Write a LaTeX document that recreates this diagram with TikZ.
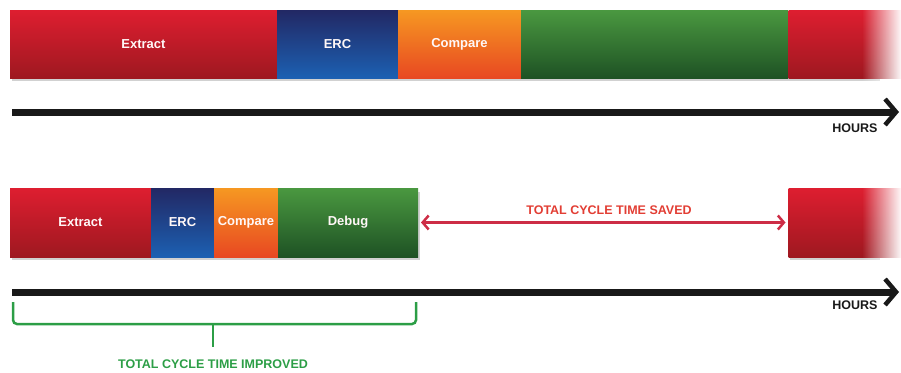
\documentclass[tikz,border=0pt]{standalone}
\usepackage{fontspec}
\setmainfont{Liberation Sans}
\usetikzlibrary{arrows.meta,fadings}
\definecolor{redT}{RGB}{222,30,48}
\definecolor{redB}{RGB}{158,24,32}
\definecolor{bluT}{RGB}{34,40,100}
\definecolor{bluB}{RGB}{28,96,178}
\definecolor{oraT}{RGB}{246,152,34}
\definecolor{oraB}{RGB}{232,72,34}
\definecolor{grnT}{RGB}{74,152,64}
\definecolor{grnB}{RGB}{30,82,36}
\definecolor{savedred}{RGB}{205,45,70}
\definecolor{savedtxt}{RGB}{226,62,52}
\definecolor{bracegreen}{RGB}{44,158,70}
\tikzset{
  seg/.style={inner sep=0pt, outer sep=0pt, anchor=west, minimum height=#1,
    font=\bfseries\fontsize{13}{13}\selectfont, text=white!88!pink},
  redseg/.style={seg=#1, top color=redT, bottom color=redB},
  bluseg/.style={seg=#1, top color=bluT, bottom color=bluB},
  oraseg/.style={seg=#1, top color=oraT, bottom color=oraB},
  grnseg/.style={seg=#1, top color=grnT, bottom color=grnB},
  axis/.style={line width=7pt, black!90, -{Straight Barb[length=11pt,width=26pt,line width=4.5pt]}},
  hours/.style={font=\bfseries\fontsize{12.5}{12.5}\selectfont, text=black!90, inner sep=0pt},
  caption/.style={font=\bfseries\fontsize{12.5}{12.5}\selectfont, inner sep=0pt},
  shadowbox/.style={fill=black!18},
}
\begin{document}
\begin{tikzpicture}[x=1pt,y=-1pt]
\useasboundingbox (0,0) rectangle (901,372);
% ---------- top bar ----------
\fill[shadowbox] (12,14) rectangle (880,81);
\node[redseg=68pt, minimum width=267pt] (ext1) at (10,44) {Extract};
\node[bluseg=68pt, minimum width=121pt] (erc1) at (ext1.east) {ERC};
\node[oraseg=68pt, minimum width=123pt] (cmp1) at (erc1.east) {Compare};
\node[grnseg=68pt, minimum width=267pt] (grn1) at (cmp1.east) {};
\node[redseg=68pt, minimum width=114pt] (tail1) at (788.5,44) {};
\fill[white, path fading=west] (862,8) rectangle (902,83);
% axis 1
\coordinate (a1s) at (12,112);
\coordinate (a1e) at (899,112);
\draw[axis] (a1s) -- (a1e);
\node[hours] (h1) at (855,128) {HOURS};
% ---------- bottom bar ----------
\fill[shadowbox] (12,192) rectangle (420,260);
\fill[shadowbox] (790,192) rectangle (880,260);
\node[redseg=69pt, minimum width=141pt] (ext2) at (10,222.5) {Extract};
\node[bluseg=69pt, minimum width=63pt] (erc2) at (ext2.east) {ERC};
\node[oraseg=69pt, minimum width=64pt] (cmp2) at (erc2.east) {Compare};
\node[grnseg=69pt, minimum width=140pt] (dbg2) at (cmp2.east) {Debug};
\node[redseg=69pt, minimum width=114pt] (tail2) at (788.5,222.5) {};
\fill[white, path fading=west] (862,186) rectangle (902,262);
% saved arrow
\draw[savedred, line width=2.5pt, {Straight Barb[length=6pt,width=14pt]}-{Straight Barb[length=6pt,width=14pt]}]
  ([xshift=3pt]dbg2.east) -- ([xshift=-3pt]tail2.west);
\node[caption, text=savedtxt] (saved) at (609,210) {TOTAL CYCLE TIME SAVED};
% axis 2
\coordinate (a2s) at (12,292);
\coordinate (a2e) at (899,292);
\draw[axis] (a2s) -- (a2e);
\node[hours] (h2) at (855,305) {HOURS};
% brace
\coordinate (bl) at (13,302);
\coordinate (br) at (416,302);
\coordinate (bm) at (213,324);
\coordinate (btip) at (213,347);
\draw[bracegreen, line width=2.5pt, rounded corners=4pt]
  (bl) |- (bm) -| (br);
\draw[bracegreen, line width=2.5pt] (bm) -- (btip);
\node[caption, text=bracegreen] (impr) at (213,364) {TOTAL CYCLE TIME IMPROVED};
\end{tikzpicture}
\end{document}
